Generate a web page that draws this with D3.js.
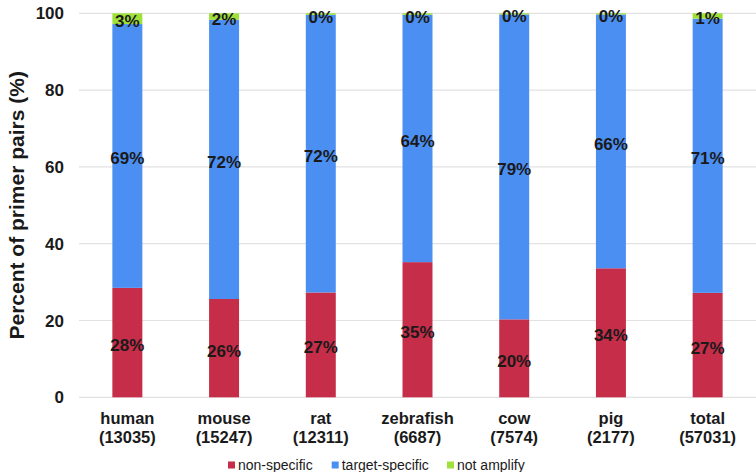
<!DOCTYPE html>
<html>
<head>
<meta charset="utf-8">
<script src="https://cdn.jsdelivr.net/npm/d3@7"></script>
<style>
  body { margin: 0; background: #fff; }
  text { font-family: "Liberation Sans", Arial, sans-serif; fill: #1a1a1a; }
</style>
</head>
<body>
<svg id="chart" width="756" height="472"></svg>
<script>
// chart data
const categories = ["human", "mouse", "rat", "zebrafish", "cow", "pig", "total"];
const counts = ["(13035)", "(15247)", "(12311)", "(6687)", "(7574)", "(2177)", "(57031)"];
const nonSpecific = [28.5, 25.6, 27.3, 35.2, 20.3, 33.6, 27.2];
const targetSpecific = [68.7, 72.7, 72.3, 64.4, 79.4, 66.1, 71.4];
const notAmplify = [2.8, 1.7, 0.4, 0.4, 0.3, 0.3, 1.4];
const nonSpecificLabels = ["28%", "26%", "27%", "35%", "20%", "34%", "27%"];
const targetSpecificLabels = ["69%", "72%", "72%", "64%", "79%", "66%", "71%"];
const notAmplifyLabels = ["3%", "2%", "0%", "0%", "0%", "0%", "1%"];
const yTicks = [0, 20, 40, 60, 80, 100];

const keys = ["nonSpecific", "targetSpecific", "notAmplify"];
const legendNames = ["non-specific", "target-specific", "not amplify"];
const colors = ["#c52d49", "#4b8ff3", "#9fe03a"];
const labelSets = [nonSpecificLabels, targetSpecificLabels, notAmplifyLabels];

const rows = categories.map((c, i) => ({
  category: c,
  nonSpecific: nonSpecific[i],
  targetSpecific: targetSpecific[i],
  notAmplify: notAmplify[i]
}));

const svg = d3.select("#chart");
const plotLeft = 79, plotRight = 756, plotTop = 13.3, plotBottom = 397.3;

const x = d3.scaleBand().domain(categories).range([plotLeft, plotRight]).paddingInner(0.69).paddingOuter(0.345);
const y = d3.scaleLinear().domain([0, 100]).range([plotBottom, plotTop]);

// gridlines
svg.append("g")
  .selectAll("line")
  .data(yTicks)
  .enter()
  .append("line")
  .attr("x1", plotLeft)
  .attr("x2", plotRight)
  .attr("y1", (d) => y(d))
  .attr("y2", (d) => y(d))
  .attr("stroke", "#e2e2e2")
  .attr("stroke-width", 1.2);

// y tick labels
svg.append("g")
  .selectAll("text")
  .data(yTicks)
  .enter()
  .append("text")
  .attr("x", 64)
  .attr("y", (d) => y(d) + 6)
  .attr("text-anchor", "end")
  .attr("font-size", "17px")
  .attr("font-weight", "bold")
  .text((d) => d);

// y title
svg.append("text")
  .attr("transform", "translate(24," + (plotBottom + plotTop) / 2 + ") rotate(-90)")
  .attr("text-anchor", "middle")
  .attr("font-size", "21px")
  .attr("font-weight", "bold")
  .text("Percent of primer pairs (%)");

// stacked bars
const series = d3.stack().keys(keys)(rows);
const layers = svg.append("g")
  .selectAll("g")
  .data(series)
  .enter()
  .append("g")
  .attr("fill", (d, i) => colors[i]);

layers.selectAll("rect")
  .data((d) => d)
  .enter()
  .append("rect")
  .attr("x", (d) => x(d.data.category))
  .attr("width", x.bandwidth())
  .attr("y", (d) => y(d[1]))
  .attr("height", (d) => y(d[0]) - y(d[1]));

// segment labels
series.forEach((s, si) => {
  svg.append("g")
    .selectAll("text")
    .data(s)
    .enter()
    .append("text")
    .attr("x", (d) => x(d.data.category) + x.bandwidth() / 2)
    .attr("y", (d) => (y(d[0]) + y(d[1])) / 2 + 8.5)
    .attr("text-anchor", "middle")
    .attr("font-size", "17px")
    .attr("font-weight", "bold")
    .text((d, i) => labelSets[si][i]);
});

// x labels
const xl = svg.append("g")
  .selectAll("text")
  .data(categories)
  .enter()
  .append("text")
  .attr("text-anchor", "middle")
  .attr("font-size", "16.5px")
  .attr("font-weight", "bold");
xl.append("tspan")
  .attr("x", (d) => x(d) + x.bandwidth() / 2)
  .attr("y", 424.3)
  .text((d) => d);
xl.append("tspan")
  .attr("x", (d) => x(d) + x.bandwidth() / 2)
  .attr("y", 443)
  .text((d, i) => counts[i]);

// legend
const legendX = [228, 331.7, 447];
const legend = svg.append("g")
  .selectAll("g")
  .data(legendNames)
  .enter()
  .append("g")
  .attr("transform", (d, i) => "translate(" + legendX[i] + ",0)");
legend.append("rect")
  .attr("x", 0)
  .attr("y", 461.5)
  .attr("width", 7)
  .attr("height", 7)
  .attr("fill", (d, i) => colors[i]);
legend.append("text")
  .attr("x", 10)
  .attr("y", 470)
  .attr("font-size", "14px")
  .text((d) => d);
</script>
</body>
</html>
